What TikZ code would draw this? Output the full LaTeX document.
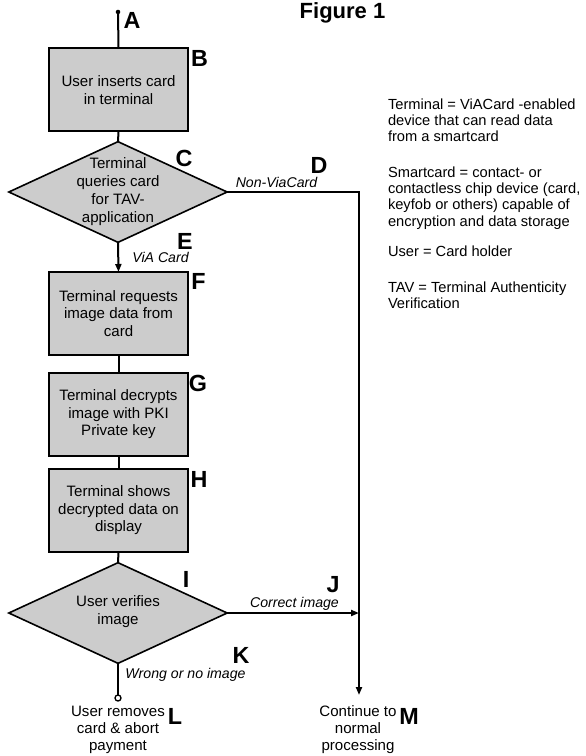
\documentclass[tikz,border=0pt]{standalone}
\usepackage{fontspec}
\setmainfont{Liberation Sans}
\usetikzlibrary{shapes.geometric,arrows.meta}
\begin{document}
\begin{tikzpicture}[x=0.75pt,y=-0.75pt,
  every node/.style={inner sep=0pt, outer sep=0pt},
  stepbox/.style={draw=black, line width=1.5pt, fill=black!20, minimum width=104.25pt, minimum height=62.25pt, align=center, font=\fontsize{11.3}{13.1}\selectfont},
  decision/.style={draw=black, line width=1.2pt, fill=black!20, diamond, aspect=2.18, minimum width=163.75pt, minimum height=75.5pt},
  dtext/.style={align=center, font=\fontsize{11.3}{13.5}\selectfont},
  letter/.style={font=\fontsize{17.5}{20}\selectfont\bfseries},
  branch/.style={font=\fontsize{10.6}{12}\selectfont\itshape, anchor=base},
  conn/.style={line width=1.5pt},
  arr/.style={conn, -{Triangle[length=6pt,width=4.5pt]}},
  note/.style={align=left, anchor=base west, font=\fontsize{11}{12.2}\selectfont},
  endtext/.style={align=center, font=\fontsize{11.3}{12.8}\selectfont}
]
\useasboundingbox (0,0) rectangle (585,756);

% title
\node[font=\fontsize{16.5}{19}\selectfont\bfseries, anchor=base] (title) at (342.5,18.5) {Figure 1};

% process boxes
\node[stepbox] (B) at (118.5,90) {User inserts card\\in terminal};
\node[stepbox] (F) at (118.5,313.5) {Terminal requests\\image data from\\card};
\node[stepbox] (G) at (118.5,414.5) {Terminal decrypts\\image with PKI\\Private key};
\node[stepbox] (H) at (118.5,510.5) {Terminal shows\\decrypted data on\\display};

% decisions
\node[decision] (C) at (118,192) {};
\node[dtext] (Ct) at (118,192) {Terminal\\queries card\\for TAV-\\application};
\node[decision] (I) at (118,613) {};
\node[dtext] (It) at (118,612) {User verifies\\image};

% end texts
\node[endtext] (Lt) at (118,730) {User removes\\card \& abort\\payment};
\node[endtext] (Mt) at (358,730) {Continue to\\normal\\processing};

% connectors
\coordinate (Adot) at (118,12);
\fill (Adot) circle[radius=1.7pt];
\draw[conn] (Adot) -- (B.north);
\draw[conn] (B.south) -- (C.north);
\draw[arr] (C.south) -- (F.north);
\draw[conn] (F.south) -- (G.north);
\draw[conn] (G.south) -- (H.north);
\draw[conn] (H.south) -- (I.north);
\coordinate (Mend) at (359,695);
\draw[arr] (C.east) -| (Mend);
\coordinate (Jjoin) at (359,613);
\draw[arr] (I.east) -- (Jjoin);
\node[draw=black, circle, line width=1pt, minimum size=4.5pt, fill=white] (Lend) at (118,698) {};
\draw[conn] (I.south) -- (Lend.north);

% branch labels
\node[branch] (nonvia) at (276.5,187) {Non-ViaCard};
\node[branch] (via) at (160.5,262) {ViA Card};
\node[branch] (corr) at (294.5,607) {Correct image};
\node[branch] (wrong) at (185.5,678) {Wrong or no image};

% letters
\node[letter] (lA) at (132,20) {A};
\node[letter] (lB) at (199.5,58.5) {B};
\node[letter] (lC) at (184,158) {C};
\node[letter] (lD) at (319,165) {D};
\node[letter] (lE) at (185,241) {E};
\node[letter] (lF) at (198.5,281.5) {F};
\node[letter] (lG) at (198,383.5) {G};
\node[letter] (lH) at (199,479) {H};
\node[letter] (lI) at (186,579) {I};
\node[letter] (lJ) at (333,585) {J};
\node[letter] (lK) at (241,655) {K};
\node[letter] (lL) at (175,716) {L};
\node[letter] (lM) at (409,716) {M};

% notes (base anchor = baseline of last line)
\node[note] (n1) at (388,141.6) {Terminal = ViACard -enabled\\device that can read data\\from a smartcard};
\node[note] (n2) at (388,226) {Smartcard = contact- or\\contactless chip device (card,\\keyfob or others) capable of\\encryption and data storage};
\node[note] (n3) at (388,256) {User = Card holder};
\node[note] (n4) at (388,308.3) {TAV = Terminal Authenticity\\Verification};
\end{tikzpicture}
\end{document}
